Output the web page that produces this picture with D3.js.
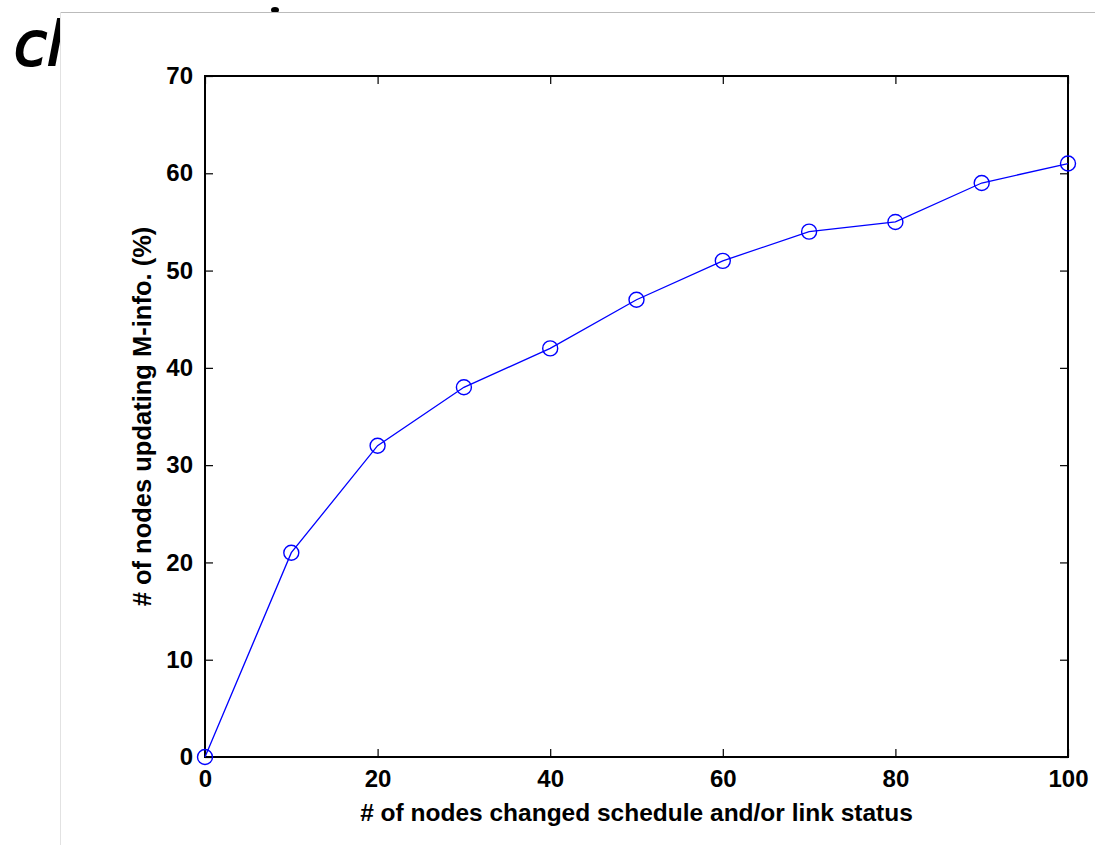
<!DOCTYPE html>
<html>
<head>
<meta charset="utf-8">
<script src="https://cdn.jsdelivr.net/npm/d3@7"></script>
<style>
  body { margin: 0; background: #fff; }
  svg { display: block; }
</style>
</head>
<body>
<div id="chart"></div>
<script>
var xValues = [0, 10, 20, 30, 40, 50, 60, 70, 80, 90, 100];
var yValues = [0, 21, 32, 38, 42, 47, 51, 54, 55, 59, 61];
var xTicks = [0, 20, 40, 60, 80, 100];
var yTicks = [0, 10, 20, 30, 40, 50, 60, 70];

function init() {
    var w = 1095;
    var h = 845;
    var margin = {left: 205, right: 1068, top: 76, bottom: 757};
    var font = "Liberation Sans, Arial, sans-serif";

    var svg = d3.select("#chart")
                .append("svg")
                .attr("width", w)
                .attr("height", h);

    // slide bits behind the figure
    svg.append("text")
       .attr("x", 14)
       .attr("y", 65)
       .attr("font-family", "DejaVu Sans")
       .attr("font-style", "italic")
       .attr("font-size", 60)
       .attr("fill", "#000")
       .attr("stroke", "#000")
       .attr("stroke-width", 2)
       .text("cl");
    svg.append("ellipse")
       .attr("cx", 275).attr("cy", 10)
       .attr("rx", 4).attr("ry", 3)
       .attr("fill", "#000");

    svg.append("rect")
       .attr("x", 60).attr("y", 12)
       .attr("width", w - 60).attr("height", h)
       .attr("fill", "#fff");
    svg.append("line")
       .attr("x1", 60).attr("x2", w)
       .attr("y1", 12.5).attr("y2", 12.5)
       .attr("stroke", "#bbb");
    svg.append("line")
       .attr("x1", 60.5).attr("x2", 60.5)
       .attr("y1", 12).attr("y2", h)
       .attr("stroke", "#e2e2e2");

    var x = d3.scaleLinear().domain([0, 100]).range([margin.left, margin.right]);
    var y = d3.scaleLinear().domain([0, 70]).range([margin.bottom, margin.top]);

    var g = svg.append("g");

    // box
    g.append("rect")
     .attr("x", margin.left)
     .attr("y", margin.top)
     .attr("width", margin.right - margin.left)
     .attr("height", margin.bottom - margin.top)
     .attr("fill", "none")
     .attr("stroke", "#000")
     .attr("stroke-width", 2);

    var tickLen = 8;

    // inward ticks on all four sides
    var xAxisB = d3.axisBottom(x).tickValues(xTicks).tickSize(-tickLen).tickPadding(tickLen + 5);
    var xAxisT = d3.axisTop(x).tickValues(xTicks).tickSize(-tickLen).tickFormat("");
    var yAxisL = d3.axisLeft(y).tickValues(yTicks).tickSize(-tickLen).tickPadding(tickLen + 4);
    var yAxisR = d3.axisRight(y).tickValues(yTicks).tickSize(-tickLen).tickFormat("");

    function styleAxis(sel) {
        sel.select(".domain").remove();
        sel.selectAll(".tick line").attr("stroke", "#000").attr("stroke-width", 1.2);
        sel.selectAll("text")
           .attr("font-family", font)
           .attr("font-weight", "bold")
           .attr("font-size", 24)
           .attr("fill", "#000");
    }

    g.append("g").attr("transform", "translate(0," + margin.bottom + ")").call(xAxisB).call(styleAxis);
    g.append("g").attr("transform", "translate(0," + margin.top + ")").call(xAxisT).call(styleAxis);
    g.append("g").attr("transform", "translate(" + margin.left + ",0)").call(yAxisL).call(styleAxis);
    g.append("g").attr("transform", "translate(" + margin.right + ",0)").call(yAxisR).call(styleAxis);

    // axis labels
    g.append("text")
     .attr("x", (margin.left + margin.right) / 2)
     .attr("y", 821)
     .attr("text-anchor", "middle")
     .attr("font-family", font)
     .attr("font-weight", "bold")
     .attr("font-size", 24.5)
     .text("# of nodes changed schedule and/or link status");

    g.append("text")
     .attr("transform", "translate(151," + (margin.top + margin.bottom) / 2 + ") rotate(-90)")
     .attr("text-anchor", "middle")
     .attr("font-family", font)
     .attr("font-weight", "bold")
     .attr("font-size", 25.5)
     .text("# of nodes updating M-info. (%)");

    var data = xValues.map(function(d, i) { return {x: d, y: yValues[i]}; });

    var line = d3.line()
                 .x(function(d) { return x(d.x); })
                 .y(function(d) { return y(d.y); });

    g.append("path")
     .datum(data)
     .attr("d", line)
     .attr("fill", "none")
     .attr("stroke", "#0000ff")
     .attr("stroke-width", 1.3);

    g.selectAll("circle.pt")
     .data(data)
     .enter()
     .append("circle")
     .attr("class", "pt")
     .attr("cx", function(d) { return x(d.x); })
     .attr("cy", function(d) { return y(d.y); })
     .attr("r", 7.5)
     .attr("fill", "none")
     .attr("stroke", "#0000ff")
     .attr("stroke-width", 1.4);
}
window.onload = init;
</script>
</body>
</html>
